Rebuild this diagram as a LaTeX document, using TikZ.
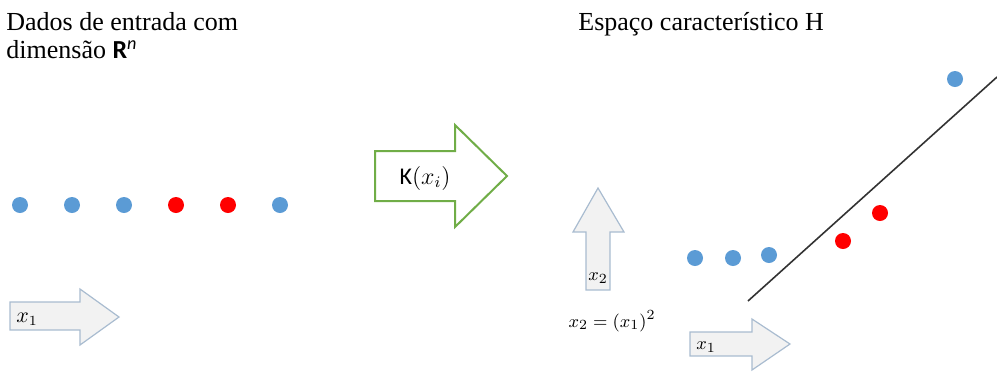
\documentclass[tikz,border=0pt]{standalone}
\usepackage{fontspec}
\setmainfont{Liberation Serif}
\newfontfamily\calib{Carlito}
\usepackage{tikz}
\definecolor{dotBlue}{HTML}{5B9BD5}
\definecolor{dotRed}{HTML}{FF0000}
\definecolor{kernGreen}{HTML}{70AD47}
\definecolor{axFill}{HTML}{F2F2F2}
\definecolor{axDraw}{HTML}{A9BCD0}
\tikzset{
  bluedot/.style={circle, fill=dotBlue, inner sep=0pt, minimum size=8pt},
  reddot/.style={circle, fill=dotRed, inner sep=0pt, minimum size=8pt},
  axarrow/.style={draw=axDraw, fill=axFill, line width=0.6pt},
  kernarrow/.style={draw=kernGreen, fill=white, line width=1pt},
  title/.style={anchor=base west, font=\fontsize{13}{14}\selectfont, align=left, inner sep=0pt},
  lbl/.style={font=\fontsize{9.5}{10}\selectfont, inner sep=0pt},
}
\begin{document}
\begin{tikzpicture}[x=0.5pt, y=-0.5pt]
  \useasboundingbox (0,0) rectangle (997,372);

  % titles
  \node[title] (tin) at (6,58) {Dados de entrada com\\dimensão {\calib\bfseries R}\textsuperscript{\calib\itshape n}};
  \node[title] (tout) at (578,30) {Espaço característico H};

  % input points on one axis
  \foreach \x/\s [count=\i] in {20/bluedot, 72/bluedot, 124/bluedot, 176/reddot, 228/reddot, 280/bluedot}
    \node[\s] (p\i) at (\x,205) {};

  % kernel arrow
  \draw[kernarrow] (375,151) -- (455,151) -- (455,125) -- (507,176) -- (455,227) -- (455,201)
    -- (375,201) -- cycle;
  \node[font=\calib\fontsize{12}{13}\selectfont, inner sep=0pt] (kern) at (425,178) {K$(x_{i})$};

  % axis arrows
  \draw[axarrow] (10,302) -- (80,302) -- (80,289) -- (119,317) -- (80,345) -- (80,330)
    -- (10,330) -- cycle;
  \node[lbl, font=\fontsize{10.5}{11}\selectfont] (ax1) at (27,319) {$x_1$};

  \draw[axarrow] (586,290) -- (586,232) -- (573,232) -- (598,188) -- (624,232) -- (610,232)
    -- (610,290) -- cycle;
  \node[lbl] (ax2) at (598,278) {$x_2$};
  \node[lbl] (map) at (612,321) {$x_2 = (x_1)^2$};

  \draw[axarrow] (690,332) -- (752,332) -- (752,319) -- (790,344) -- (752,370) -- (752,356)
    -- (690,356) -- cycle;
  \node[lbl] (ax3) at (706,347) {$x_1$};

  % mapped points and separating line
  \node[bluedot] (q1) at (695,258) {};
  \node[bluedot] (q2) at (733,258) {};
  \node[bluedot] (q3) at (769,255) {};
  \node[reddot] (q4) at (843,241) {};
  \node[reddot] (q5) at (880,213) {};
  \node[bluedot] (q6) at (955,79) {};
  \coordinate (h0) at (748,301);
  \coordinate (h1) at (997,77);
  \draw[line width=0.8pt, black!80] (h0) -- (h1);
\end{tikzpicture}
\end{document}
